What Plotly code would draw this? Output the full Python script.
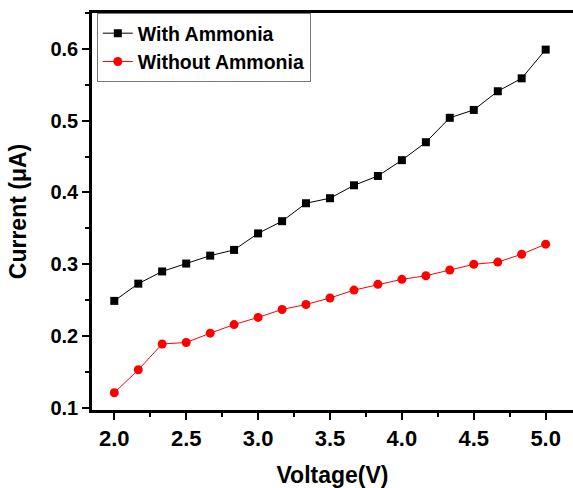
import plotly.graph_objects as go

voltage = [2.0, 2.167, 2.333, 2.5, 2.667, 2.833, 3.0, 3.167, 3.333, 3.5,
           3.667, 3.833, 4.0, 4.167, 4.333, 4.5, 4.667, 4.833, 5.0]
with_ammonia = [0.249, 0.273, 0.290, 0.301, 0.312, 0.320, 0.343, 0.360, 0.385, 0.392,
                0.410, 0.423, 0.445, 0.470, 0.504, 0.515, 0.541, 0.559, 0.599]
without_ammonia = [0.121, 0.153, 0.189, 0.191, 0.204, 0.216, 0.226, 0.237, 0.244, 0.253,
                   0.264, 0.272, 0.279, 0.284, 0.292, 0.300, 0.303, 0.314, 0.328]
series_names = ["With Ammonia", "Without Ammonia"]
x_title = "Voltage(V)"
y_title = "Current (μA)"

FONT = "Liberation Sans, Arial, sans-serif"

fig = go.Figure()
fig.add_trace(go.Scatter(
    x=voltage, y=with_ammonia, name=series_names[0], mode="lines+markers",
    line=dict(color="black", width=1),
    marker=dict(symbol="square", size=8, color="black"),
))
fig.add_trace(go.Scatter(
    x=voltage, y=without_ammonia, name=series_names[1], mode="lines+markers",
    line=dict(color="#ff0000", width=1),
    marker=dict(symbol="circle", size=9, color="#ff0000"),
))

fig.update_layout(
    width=573, height=488,
    margin=dict(l=92, r=0, t=13, b=78),
    paper_bgcolor="white", plot_bgcolor="white",
    font=dict(family=FONT, color="black", weight="bold"),
    showlegend=True,
    legend=dict(
        x=0.01, y=1.0, xanchor="left", yanchor="top",
        bgcolor="white", bordercolor="#777777", borderwidth=1,
        font=dict(family=FONT, size=19.5, color="black", weight="bold"),
        tracegroupgap=0, itemwidth=30,
    ),
    xaxis=dict(
        range=[1.845, 5.19], showgrid=False, zeroline=False,
        showline=True, linecolor="black", linewidth=2.5, mirror=True,
        ticks="outside", ticklen=7, tickwidth=2, tickcolor="black",
        tickmode="linear", tick0=2.0, dtick=0.5, tickformat=".1f",
        tickfont=dict(family=FONT, size=22, color="black", weight="bold"),
        minor=dict(ticks="outside", ticklen=4, tickwidth=2, tickcolor="black",
                   dtick=0.25, tick0=2.0, showgrid=False),
        title=dict(text=x_title, standoff=18,
                   font=dict(family=FONT, size=23, color="black", weight="bold")),
    ),
    yaxis=dict(
        range=[0.097, 0.65], showgrid=False, zeroline=False,
        showline=True, linecolor="black", linewidth=2.5, mirror=False,
        ticks="outside", ticklen=7, tickwidth=2, tickcolor="black",
        tickmode="linear", tick0=0.1, dtick=0.1, tickformat=".1f",
        tickfont=dict(family=FONT, size=20, color="black", weight="bold"),
        minor=dict(ticks="outside", ticklen=4, tickwidth=2, tickcolor="black",
                   dtick=0.05, tick0=0.1, showgrid=False),
        title=dict(text=y_title, standoff=18,
                   font=dict(family=FONT, size=23, color="black", weight="bold")),
    ),
)

fig.write_html("out.html")
